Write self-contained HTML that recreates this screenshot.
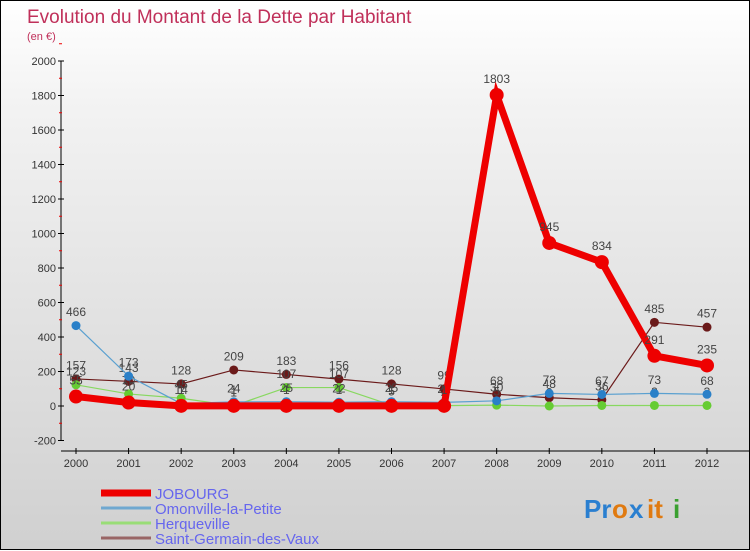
<!DOCTYPE html>
<html><head><meta charset="utf-8"><style>
html,body{margin:0;padding:0}
body{width:750px;height:550px;overflow:hidden;font-family:"Liberation Sans",sans-serif}
#wrap{position:relative;width:748px;height:548px;border:1px solid #000;background:linear-gradient(#ffffff,#f2f2f2 20%,#d0d0d0)}
svg{position:absolute;left:0;top:0}
text{font-family:"Liberation Sans",sans-serif}
</style></head><body>
<div id="wrap">
<svg id="chart" width="750" height="550">
<text x="26" y="22" font-size="19" fill="#c0305a">Evolution du Montant de la Dette par Habitant</text>
<text x="26" y="39" font-size="11" fill="#c0305a">(en €)</text>
<g id="axes"></g><g id="series"></g><g id="legend"></g>
<g font-size="26" font-weight="bold">
<text x="583" y="517" fill="#2a7fd0">Pr</text><text x="611" y="517" fill="#e07a10">o</text><text x="628" y="517" fill="#2a7fd0">x</text><text x="646" y="517" fill="#e07a10">it</text><text x="672" y="517" fill="#3aa030">i</text>
</g>
</svg>
</div>
<script>
const years=[2000,2001,2002,2003,2004,2005,2006,2007,2008,2009,2010,2011,2012];
const yTicks=[-200,0,200,400,600,800,1000,1200,1400,1600,1800,2000];
const jobourg=[55,20,1,1,1,1,1,1,1803,945,834,291,235];
const omonville=[466,173,14,24,25,22,25,21,30,73,67,73,68];
const herqueville=[123,70,45,1,107,107,5,2,5,0,3,3,3];
const saintGermain=[157,143,128,209,183,156,128,99,68,48,36,485,457];
const names=["JOBOURG","Omonville-la-Petite","Herqueville","Saint-Germain-des-Vaux"];
const NS="http://www.w3.org/2000/svg";
const X=i=>75+i*(706-75)/(years.length-1);
const Y=v=>405-v*(345/2000);
function mk(t,a,p){const e=document.createElementNS(NS,t);for(const k in a)e.setAttribute(k,a[k]);p.appendChild(e);return e;}
const ax=document.getElementById('axes');
let yl=mk('line',{x1:60,y1:Y(2000),x2:60,y2:Y(-200),stroke:'#000'},ax);


yTicks.forEach(v=>{
 mk('line',{x1:57,x2:63,y1:Y(v),y2:Y(v),stroke:'#000'},ax);
 mk('line',{x1:58,x2:61,y1:Y(v+100),y2:Y(v+100),stroke:'#e00'},ax);
 const t=mk('text',{x:55,y:Y(v)+4,'text-anchor':'end','font-size':11,fill:'#333'},ax);
 t.textContent=v;
 
 
});
let xl=mk('line',{x1:60,y1:450,x2:750,y2:450,stroke:'#000'},ax);


years.forEach((y,i)=>{
 mk('line',{x1:X(i),x2:X(i),y1:447,y2:453,stroke:'#000'},ax);
 const t=mk('text',{x:X(i),y:466,'text-anchor':'middle','font-size':11,fill:'#333'},ax);
 t.textContent=y;
 
 
});
const sg=document.getElementById('series');
const defs=[
 [saintGermain,'#6b1a1a','#6b1a1a',1.2,4.5,'saint-germain'],
 [herqueville,'#88d860','#66cc33',1.2,4.5,'herqueville'],
 [omonville,'#5aa0d0','#2a80c8',1.2,4.5,'omonville'],
 [jobourg,'#ee0000','#ee0000',7,7,'jobourg']];
const order=[3,2,1,0];
defs.forEach((d,k)=>{
 const [vals,lc,dc,w,r,nm]=d;
 const g=mk('g',{},sg);
 
 
 const p=mk('polyline',{points:vals.map((v,i)=>X(i)+','+Y(v)).join(' '),fill:'none',stroke:lc,'stroke-width':w},g);
 
 
 vals.forEach((v,i)=>{
  const c=mk('circle',{cx:X(i),cy:Y(v),r:r,fill:dc},g);
  
  
  const t=mk('text',{x:X(i),y:Y(v)-(r+5),'text-anchor':'middle','font-size':12,fill:'#444'},g);
  t.textContent=v;
  
  
 });
});
const lg=document.getElementById('legend');
const lcols=['#ee0000','#6fa8d0','#99dd77','#996666'];const lw=[7,3,3,3];
names.forEach((n,i)=>{
 const y=492+i*15;
 const l=mk('line',{x1:100,x2:150,y1:y,y2:y,stroke:lcols[i],'stroke-width':lw[i]},lg);
 
 
 const t=mk('text',{x:154,y:y+6,'font-size':15,fill:'#6666ee'},lg);
 t.textContent=n;
 
 
});
</script>
</body></html>
